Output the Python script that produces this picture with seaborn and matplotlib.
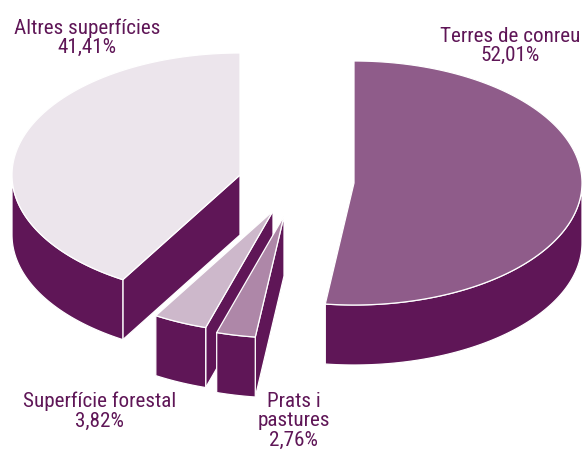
import numpy as np
import matplotlib
matplotlib.use("Agg")
import matplotlib.pyplot as plt
import seaborn as sns

# Data
categories = ["Terres de conreu", "Prats i\npastures", "Superfície forestal", "Altres superfícies"]
shares = [52.01, 2.76, 3.82, 41.41]

# Style / layout
top_colors = ["#8f5c8a", "#ae87a8", "#cdb8cb", "#ece5ec"]
wall_color = "#5f1657"
text_color = "#5f1657"
centers = [(354, 183), (284, 216), (273, 211), (240, 175)]
label_pos = [(510, 46), (294, 421), (100, 411), (87, 37.5)]
RX, RY, DEPTH = 228, 122, 60

sns.set_theme(style="white")
plt.rcParams["font.family"] = ["Roboto Condensed", "Archivo Narrow", "DejaVu Sans"]

fig, ax = plt.subplots(figsize=(5.82, 4.51), dpi=100)
ax.set_position([0, 0, 1, 1])
ax.set_xlim(0, 582)
ax.set_ylim(451, 0)
ax.set_axis_off()

fractions = np.array(shares) / 100.0
ends = np.cumsum(fractions) * 2 * np.pi
starts = ends - fractions * 2 * np.pi


def arc(center, t0, t1):
    n = max(int((t1 - t0) * 60), 8)
    t = np.linspace(t0, t1, n)
    return center[0] + RX * np.sin(t), center[1] - RY * np.cos(t)


def draw_slice(i):
    c = centers[i]
    t0, t1 = starts[i], ends[i]
    kw = dict(edgecolor="white", linewidth=0.9, joinstyle="round")
    # cut wall at the start angle is visible only on the front half
    if np.cos(t0) < 0:
        px, py = arc(c, t0, t0 + 1e-6)
        ax.fill([c[0], px[0], px[0], c[0]], [c[1], py[0], py[0] + DEPTH, c[1] + DEPTH],
                facecolor=wall_color, **kw)
    # outer rim, front half only
    r0, r1 = max(t0, np.pi / 2), min(t1, 3 * np.pi / 2)
    if r1 > r0:
        rx, ry = arc(c, r0, r1)
        ax.fill(np.r_[rx, rx[::-1]], np.r_[ry, ry[::-1] + DEPTH], facecolor=wall_color, **kw)
    # top
    x, y = arc(c, t0, t1)
    ax.fill(np.r_[c[0], x], np.r_[c[1], y], facecolor=top_colors[i], **kw)


for i in [3, 2, 1, 0]:
    draw_slice(i)

for name, val, (lx, ly) in zip(categories, shares, label_pos):
    label = f"{name}\n{val:.2f}%".replace(".", ",")
    ax.text(lx, ly, label, color=text_color, fontsize=15.2, ha="center",
            va="center", linespacing=1.02)

fig.savefig("out.png", dpi=100, facecolor="white")
